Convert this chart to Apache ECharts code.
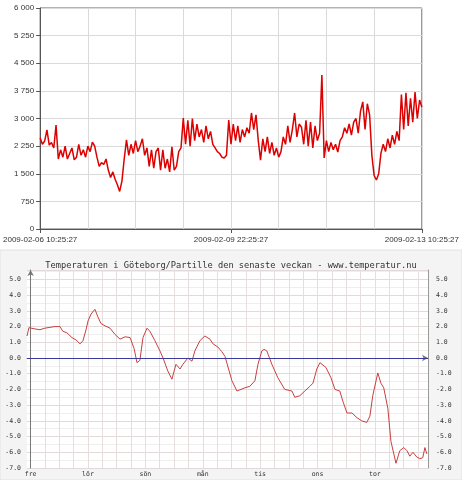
<!DOCTYPE html>
<html>
<head>
<meta charset="utf-8">
<script src="https://cdn.jsdelivr.net/npm/echarts@6/dist/echarts.min.js"></script>
<style>
  html, body { margin: 0; background: #fff; }
  #chart { width: 462px; height: 480px; }
</style>
</head>
<body>
<div id="chart"></div>
<script>
// Top panel: one value per hour over the week shown
const usage = [
  2470, 2300, 2390, 2690, 2280, 2350, 2200, 2820,
  1900, 2150, 1950, 2250, 1900, 2050, 2200, 1880, 1950, 2300, 2000, 2150, 1950, 2250, 2100,
  2360, 2250,
  1950, 1700, 1800, 1750, 1900, 1600,
  1400, 1550, 1350, 1200, 1020,
  1300, 1900,
  2420, 2000, 2300, 2050, 2400, 2100, 2250, 2450, 2000, 2200, 1700, 2150, 1650, 2100, 2200, 1600, 2150,
  1650, 1900, 1550, 2230, 1600, 1700, 2100, 2200,
  3010, 2300, 2950, 2250, 3000, 2400, 2850, 2500, 2700, 2350, 2800, 2450, 2650, 2300,
  2200, 2100, 2050, 1950, 1930, 2000,
  2960, 2300, 2850, 2400, 2800, 2350, 2700, 2500, 2750,
  2600, 3150, 2700, 3100,
  2400, 1870,
  2450, 2100, 2500, 2050, 2350, 2000, 2200, 1950,
  2100, 2500, 2300, 2800, 2350, 2700, 3150, 2500, 2850,
  2770, 2300, 2950, 2250, 2900, 2200, 2800, 2400, 2600,
  4180, 1930,
  2400, 2100, 2350, 2150, 2300, 2090, 2400,
  2500, 2750, 2600, 2850, 2550, 2900, 3000, 2600, 3200,
  3450, 2700, 3400, 3100,
  2000, 1450, 1330, 1500,
  2060, 2300, 2100, 2450, 2200, 2550, 2300, 2650,
  2400, 3650, 2700, 3700, 2800, 3550, 2900, 3720, 3000, 3500, 3310
];
const topDates = ['2009-02-06 10:25:27', '2009-02-09 22:25:27', '2009-02-13 10:25:27'];

// Bottom panel: temperature, hours counted from Friday 00:00
const dayNames = ['fre', 'lör', 'sön', 'mån', 'tis', 'ons', 'tor'];
const tempHours = [
  -1.5, -0.7, 1.8, 3.9, 6.0, 8.1, 10.2, 12.3, 13.5, 15.2, 17.3, 19.0, 20.7, 21.9, 23.2,
  24.0, 25.3, 26.9, 28.2, 29.4, 31.1, 33.2, 35.3, 37.4, 39.5, 41.6, 43.3, 44.5, 45.7, 47.0,
  48.7, 49.9, 52.0, 54.1, 55.4, 57.4, 59.1, 60.8, 62.5, 63.7, 65.8, 67.5, 68.7, 70.8,
  72.9, 75.0, 76.3, 78.3, 80.0, 81.3, 84.2, 86.3, 89.6, 91.7, 93.8, 95.1,
  96.7, 97.6, 98.8, 100.9, 103.4, 106.3, 109.3, 110.5, 112.6, 114.7, 116.8, 118.1,
  119.7, 121.0, 121.8, 123.5, 125.6, 127.3, 129.3, 130.6, 132.3, 134.4, 136.5, 138.5,
  140.6, 141.9, 143.1, 145.2, 146.5, 147.7, 149.4, 150.7, 151.9, 152.8, 154.4, 156.1,
  157.4, 158.6, 159.9, 161.5, 162.8, 164.0, 164.9, 165.7
];
const tempValues = [
  1.4, 1.93, 1.85, 1.8, 1.9, 1.95, 2.0, 2.0, 1.7, 1.6, 1.3, 1.15, 0.9, 1.1, 1.8,
  2.35, 2.8, 3.1, 2.6, 2.2, 2.05, 1.9, 1.5, 1.2, 1.35, 1.3, 0.6, -0.3, -0.15, 1.3,
  1.9, 1.7, 1.1, 0.45, 0.0, -0.83, -1.35, -0.4, -0.7, -0.4, 0.0, -0.2, 0.45, 1.1,
  1.4, 1.2, 0.9, 0.7, 0.4, 0.1, -1.45, -2.1, -1.9, -1.8, -1.45, -0.4,
  0.45, 0.55, 0.45, -0.4, -1.25, -2.0, -2.1, -2.5, -2.4, -2.1, -1.8, -1.6,
  -0.7, -0.3, -0.2, -0.6, -1.25, -2.0, -2.1, -2.75, -3.5, -3.5, -3.8, -4.0,
  -4.1, -3.7, -2.4, -0.95, -1.6, -1.9, -3.2, -5.3, -6.1, -6.7, -5.9, -5.7,
  -5.9, -6.25, -6.0, -6.3, -6.4, -6.35, -5.7, -6.1
];
const titleText = 'Temperaturen i Göteborg/Partille den senaste veckan - www.temperatur.nu';

const sans = '"Liberation Sans", Arial, sans-serif';
const mono = '"DejaVu Sans Mono", monospace';

const sixHours = [];
for (let h = 0; h <= 162; h += 6) sixHours.push(h);
const dayStarts = dayNames.map((_, i) => i * 24);

const spaced = (v) => String(v).replace(/\B(?=(\d{3})+(?!\d))/g, ' ');
const oneDecimal = (v) => (Math.abs(v - Math.round(v)) > 1e-6 ? '' : v.toFixed(1));

const chart = echarts.init(document.getElementById('chart'));
chart.setOption({
  animation: false,
  backgroundColor: '#fff',
  graphic: [{
    type: 'rect', silent: true, z: -1,
    shape: { x: 0, y: 250, width: 462, height: 230 },
    style: { fill: '#f4f4f4', stroke: '#e2e2e2' }
  }],
  title: {
    text: titleText, left: 'center', top: 256,
    textStyle: { fontFamily: mono, fontSize: 8.7, fontWeight: 'normal', color: '#333' }
  },
  grid: [
    { left: 33, top: 8, width: 392, height: 221, show: true, borderColor: '#666', borderWidth: 1, backgroundColor: '#fff' },
    { left: 27, top: 270, width: 401, height: 198, show: true, borderWidth: 0, backgroundColor: '#fff' }
  ],
  xAxis: [
    {
      gridIndex: 0, type: 'value', position: 'bottom', min: 0, max: 168, interval: 21,
      axisLine: { show: false }, axisTick: { show: false }, axisLabel: { show: false },
      splitLine: { lineStyle: { color: '#dadada' } }
    },
    {
      gridIndex: 0, type: 'value', position: 'bottom', min: 0, max: 168, interval: 84,
      axisLine: { lineStyle: { color: '#555' } },
      axisTick: { length: 4, lineStyle: { color: '#555' } },
      axisLabel: {
        formatter: (v) => topDates[Math.round(v / 84)],
        alignMinLabel: 'center', alignMaxLabel: 'center',
        fontFamily: sans, fontSize: 8, color: '#333', margin: 7
      },
      splitLine: { show: false }
    },
    {
      gridIndex: 1, type: 'value', position: 'bottom', min: -1.5, max: 166.2,
      axisLine: { symbol: ['none', 'arrow'], symbolSize: [5, 6], lineStyle: { color: '#777' } },
      axisTick: { show: false, customValues: sixHours },
      axisLabel: {
        customValues: dayStarts,
        formatter: (v) => (v % 24 === 0 ? dayNames[v / 24] : ''),
        fontFamily: mono, fontSize: 6.5, color: '#333', margin: 3
      },
      splitLine: { show: true, lineStyle: { color: '#e6dddd' } }
    }
  ],
  yAxis: [
    {
      gridIndex: 0, type: 'value', min: 0, max: 6000, interval: 750,
      axisLine: { show: true, lineStyle: { color: '#555' } },
      axisTick: { show: true, length: 4, lineStyle: { color: '#555' } },
      axisLabel: { formatter: spaced, fontFamily: sans, fontSize: 8, color: '#333', margin: 6 },
      splitLine: { lineStyle: { color: '#dadada' } }
    },
    {
      gridIndex: 1, type: 'value', min: -7, max: 5.6, interval: 1,
      axisLine: { show: true, symbol: ['none', 'arrow'], symbolSize: [5, 6], lineStyle: { color: '#777' } },
      axisTick: { show: false },
      axisLabel: { formatter: oneDecimal, fontFamily: mono, fontSize: 6.5, color: '#333', margin: 6 },
      splitLine: { lineStyle: { color: '#e2dada' } },
      minorTick: { show: false, splitNumber: 2 },
      minorSplitLine: { show: true, lineStyle: { color: '#efefef' } }
    },
    {
      gridIndex: 1, type: 'value', position: 'right', min: -7, max: 5.6, interval: 1,
      axisLine: { show: true, lineStyle: { color: '#999' } },
      axisTick: { show: false },
      axisLabel: { formatter: oneDecimal, fontFamily: mono, fontSize: 6.5, color: '#333', margin: 8 },
      splitLine: { show: false }
    }
  ],
  series: [
    {
      type: 'line', xAxisIndex: 1, yAxisIndex: 0,
      data: usage.map((v, i) => [i, v]),
      symbol: 'none',
      lineStyle: { color: '#dd0000', width: 1.5 }
    },
    {
      type: 'line', xAxisIndex: 2, yAxisIndex: 1,
      data: tempHours.map((h, i) => [h, tempValues[i]]),
      symbol: 'none',
      lineStyle: { color: '#c84040', width: 1 },
      markLine: {
        silent: true, symbol: 'none', label: { show: false },
        lineStyle: { color: '#3a3a9a', width: 1, type: 'solid' },
        data: [{ yAxis: 0 }]
      }
    }
  ]
});
</script>
</body>
</html>
